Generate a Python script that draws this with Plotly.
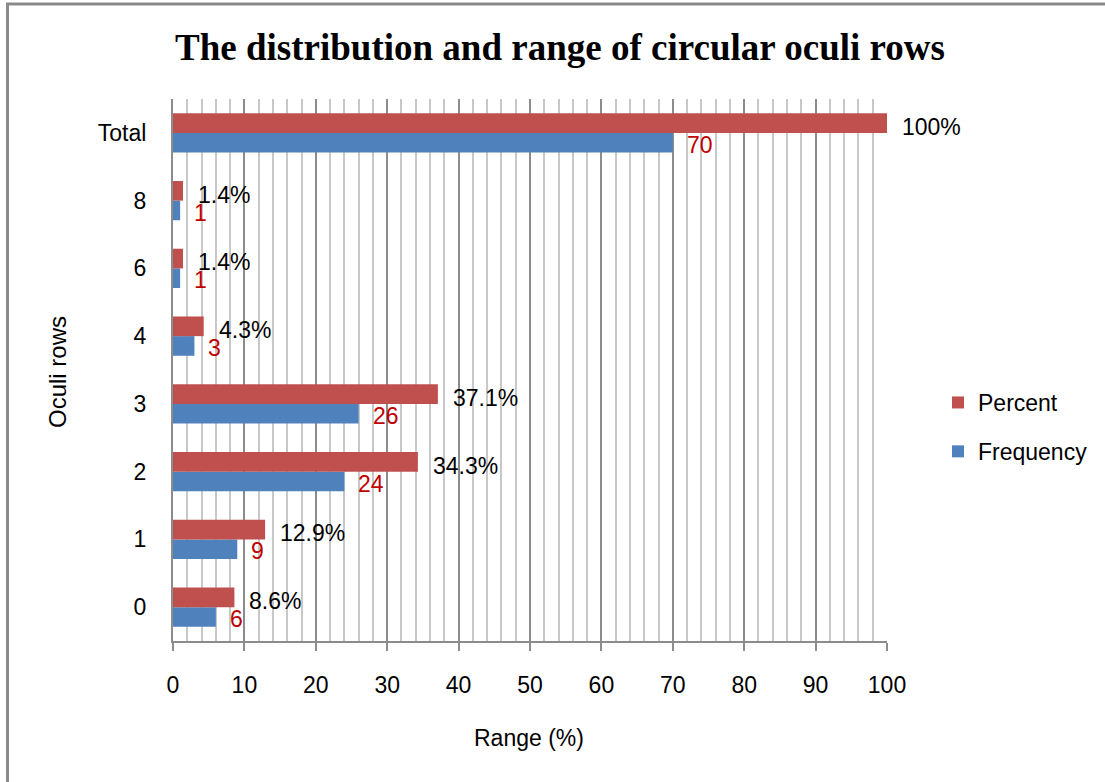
import plotly.graph_objects as go

# Oculi row counts and their share of the 70 specimens
categories = ["0", "1", "2", "3", "4", "6", "8", "Total"]
frequency = [6, 9, 24, 26, 3, 1, 1, 70]
percent = [8.6, 12.9, 34.3, 37.1, 4.3, 1.4, 1.4, 100]
percent_labels = ["8.6%", "12.9%", "34.3%", "37.1%", "4.3%", "1.4%", "1.4%", "100%"]

W, H = 1105, 782
L, R, T, B = 173, 887, 99, 641  # plot-area edges in pixels

FONT = "Liberation Sans"
FS = 23
RED = "#C0504D"
BLUE = "#4F81BD"
LABEL_RED = "#C00000"


def px_x(p):
    return (p - L) / (R - L)


def px_y(p):
    return (B - p) / (B - T)


fig = go.Figure()
fig.add_trace(go.Bar(
    y=categories, x=frequency, orientation="h", name="Frequency",
    marker=dict(color=BLUE, line=dict(width=0)),
    legendrank=2, legendgroup="freq",
))
fig.add_trace(go.Bar(
    y=categories, x=percent, orientation="h", name="Percent",
    marker=dict(color=RED, line=dict(width=0)),
    legendrank=1, legendgroup="pct",
))

annotations = []
# category positions are given by index so numeric-looking names stay on their own row
for i, (p, lab) in enumerate(zip(percent, percent_labels)):
    annotations.append(dict(
        x=p, y=i, xref="x", yref="y", text=lab, showarrow=False,
        xanchor="left", yanchor="middle", xshift=13, yshift=6,
        font=dict(family=FONT, size=FS, color="#000000"),
    ))
for i, f in enumerate(frequency):
    annotations.append(dict(
        x=f, y=i, xref="x", yref="y", text=str(f), showarrow=False,
        xanchor="left", yanchor="middle", xshift=12, yshift=-12,
        font=dict(family=FONT, size=FS, color=LABEL_RED),
    ))

# Axis titles
annotations.append(dict(
    x=px_x(57), y=px_y(372), xref="paper", yref="paper", text="Oculi rows",
    showarrow=False, textangle=-90, xanchor="center", yanchor="middle",
    font=dict(family=FONT, size=24, color="#000000"),
))
annotations.append(dict(
    x=px_x(529), y=px_y(738), xref="paper", yref="paper", text="Range (%)",
    showarrow=False, xanchor="center", yanchor="middle",
    font=dict(family=FONT, size=23, color="#000000"),
))

# Chart frame: left and top edges
shapes = [
    dict(type="line", xref="paper", yref="paper",
         x0=px_x(7.5), x1=px_x(7.5), y0=px_y(3), y1=px_y(790),
         line=dict(color="#8A8A8A", width=3)),
    dict(type="line", xref="paper", yref="paper",
         x0=px_x(6), x1=px_x(1110), y0=px_y(4), y1=px_y(4),
         line=dict(color="#8A8A8A", width=3)),
]

fig.update_layout(
    width=W, height=H,
    margin=dict(l=L, r=W - R, t=T, b=H - B, pad=0),
    paper_bgcolor="white", plot_bgcolor="white",
    barmode="group", bargap=0.42, bargroupgap=0,
    title=dict(
        text="<b>The distribution and range of circular oculi rows</b>",
        x=560 / W, xref="container", xanchor="center",
        y=1 - 47 / H, yref="container", yanchor="middle",
        font=dict(family="Liberation Serif", size=37, color="#000000"),
    ),
    legend=dict(
        x=px_x(938), y=px_y(427), xref="paper", yref="paper",
        xanchor="left", yanchor="middle",
        tracegroupgap=16,
        font=dict(family=FONT, size=FS, color="#000000"),
        bgcolor="rgba(0,0,0,0)", itemwidth=30,
    ),
    annotations=annotations,
    shapes=shapes,
    xaxis=dict(
        range=[0, 100], dtick=10, tick0=0,
        showgrid=True, gridcolor="#8C8C8C", gridwidth=1.5,
        minor=dict(dtick=2, tick0=0, showgrid=True, gridcolor="#C8C8C8", gridwidth=1.5),
        showline=True, linecolor="#8C8C8C", linewidth=2,
        ticks="outside", ticklen=8, tickcolor="#8C8C8C", tickwidth=1.5,
        ticklabelstandoff=14,
        tickfont=dict(family=FONT, size=FS, color="#000000"),
        zeroline=False, fixedrange=True,
    ),
    yaxis=dict(
        type="category", categoryorder="array", categoryarray=categories,
        showgrid=False, showline=True, linecolor="#8C8C8C", linewidth=2,
        ticks="", ticklabelstandoff=20,
        tickfont=dict(family=FONT, size=FS, color="#000000"),
        fixedrange=True,
    ),
    showlegend=True,
)

fig.write_html("out.html")
